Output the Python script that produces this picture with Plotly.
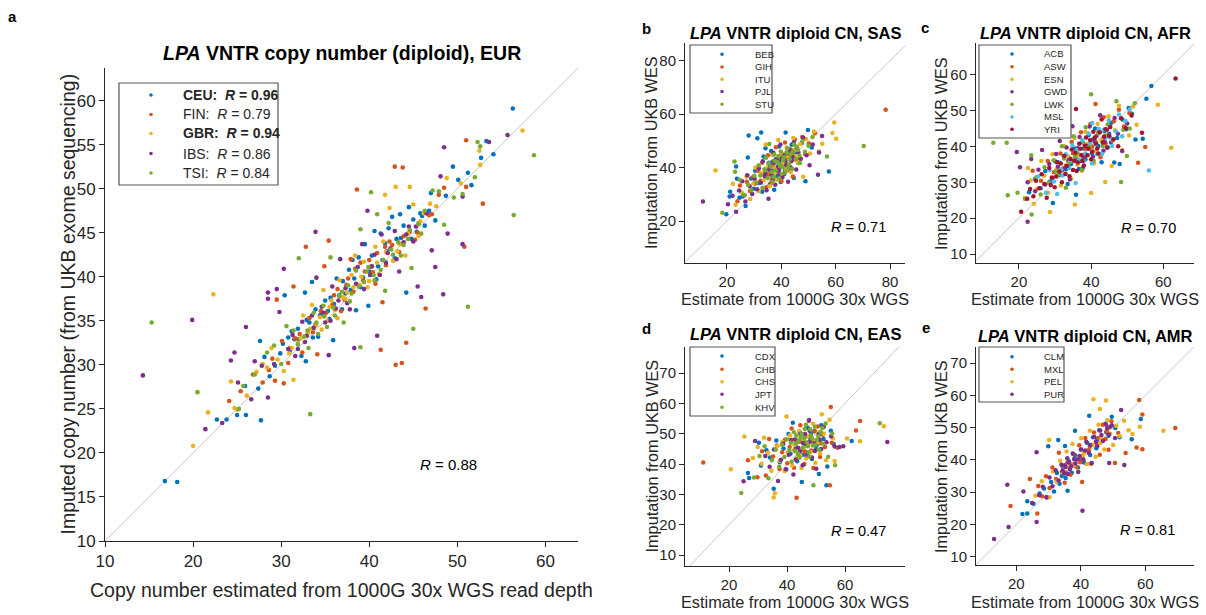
import plotly.graph_objects as go

W, H = 1206, 615

BLUE = "#0072BD"
ORANGE = "#D95319"
YELLOW = "#EDB120"
PURPLE = "#7E2F8E"
GREEN = "#77AC30"
CYAN = "#4DBEEE"
DARKRED = "#A2142F"
AXIS = "#262626"

# ---------------- EUR: (WGS estimate, WES imputation) per population ----------------
EUR_CEU = [(16.8,16.8),(18.2,16.7),(22.7,23.8),(23.8,23.8),(25.0,24.3),(26.0,24.3),(25.9,27.6),(27.7,23.7),
           (27.6,32.7),(27.4,27.3),(28.1,30.9),(28.7,28.7),(29.3,29.9),(29.9,31.3),(30.2,32.4),(30.4,37.9),
           (30.8,33.1),(31.2,33.8),(31.5,32.9),(31.9,34.1),(32.3,31.0),(32.7,38.2),(32.8,30.4),(32.9,35.1),
           (33.2,34.8),(33.5,39.4),(33.9,36.3),(34.2,33.2),(34.6,35.9),(35.0,37.3),(35.3,36.1),(35.6,37.6),
           (35.9,32.8),(36.3,39.8),(36.6,37.9),(37.0,39.5),(37.3,38.1),(37.7,40.8),(38.1,41.9),(38.5,36.2),
           (38.8,42.2),(39.3,39.9),(39.5,43.7),(39.9,36.7),(40.3,42.4),(40.6,45.2),(41.0,41.2),(41.3,44.9),
           (41.8,43.8),(42.2,45.5),(42.6,46.8),(43.1,44.3),(43.5,47.1),(43.9,45.8),(44.2,38.2),(44.5,47.9),
           (45.0,46.5),(45.4,45.1),(45.8,47.2),(46.3,45.8),(47.0,49.5),(48.7,49.2),(49.5,52.5),(50.1,51.0),
           (51.2,51.8),(51.6,50.4),(52.7,53.5),(53.3,55.4),(54.1,53.9),(56.3,59.1),
           (31.0,31.6),(32.0,32.9),(33.6,33.1),(34.4,35.6),(35.5,35.2),(36.0,36.9),(36.9,36.3),(37.9,38.5),
           (38.3,39.8),(39.0,38.8),(40.0,40.6),(40.8,39.7),(41.5,41.9),(42.0,42.9),(42.9,42.1),(43.6,44.4),
           (44.8,44.3),(46.0,46.9),(46.8,47.5),(47.5,46.4)]
EUR_FIN = [(24.1,25.9),(25.4,27.0),(26.8,28.9),(27.9,28.0),(28.6,29.4),(29.0,30.7),(29.3,28.2),(29.5,37.4),
           (30.1,32.7),(30.3,27.9),(30.8,30.2),(31.4,38.9),(31.6,33.0),(32.4,31.4),(32.8,43.4),(33.2,35.3),
           (33.6,33.7),(34.1,31.2),(34.5,36.1),(34.9,41.2),(35.4,44.1),(35.8,36.8),(36.4,38.6),(37.2,37.4),
           (37.6,39.8),(37.9,42.0),(38.4,40.9),(38.6,49.9),(39.0,41.6),(39.5,40.6),(40.0,41.9),(40.4,40.5),
           (40.9,42.7),(41.3,31.7),(41.5,37.1),(41.8,43.4),(42.3,44.0),(42.9,52.5),(43.0,30.0),(43.4,42.8),
           (43.7,30.2),(43.8,52.4),(44.2,32.5),(44.6,45.1),(45.2,44.2),(45.6,46.1),(46.4,36.4),(46.8,47.0),
           (47.1,47.1),(47.9,49.3),(48.5,50.1),(50.8,43.4),(51.0,50.2),(51.0,55.5),(52.9,48.3),
           (31.0,31.9),(32.1,33.5),(33.9,34.6),(35.1,35.9),(36.0,37.9),(36.8,36.1),(37.4,39.1),(38.2,38.3),
           (39.3,39.6),(40.2,41.1),(40.7,39.2),(41.9,41.3),(42.6,43.6),(43.9,44.6),(45.5,45.0)]
EUR_GBR = [(20.0,20.8),(21.7,24.6),(22.3,38.0),(24.3,28.1),(24.7,25.1),(25.0,24.9),(26.1,26.5),(27.2,29.2),
           (27.9,30.1),(28.4,29.7),(28.9,31.9),(29.6,30.6),(30.3,29.3),(30.9,31.3),(31.4,28.3),(31.9,32.5),
           (32.5,35.6),(33.0,33.6),(33.5,36.8),(34.0,34.5),(34.4,35.4),(34.8,38.5),(35.3,35.0),(35.7,37.3),
           (36.1,36.2),(36.6,39.6),(37.0,37.7),(37.5,38.2),(38.0,40.2),(38.4,42.4),(38.9,39.1),(39.4,41.7),
           (39.8,38.8),(40.2,41.2),(40.7,43.4),(41.1,40.3),(41.6,44.0),(41.8,49.3),(42.3,47.8),(42.7,41.8),
           (43.0,50.2),(43.5,43.7),(44.1,42.4),(44.6,50.2),(45.0,48.2),(45.6,44.6),(46.2,47.2),(46.9,48.3),
           (47.6,48.0),(48.8,51.2),(50.4,50.6),(52.5,54.3),(52.6,52.7),(57.4,56.6),
           (31.2,31.9),(32.2,33.0),(33.3,34.1),(34.6,34.0),(35.5,36.6),(36.4,35.3),(37.3,37.5),(38.2,38.8),
           (39.1,40.0),(40.0,39.5),(40.9,41.6),(41.9,42.8),(43.2,42.9),(44.4,44.9),(45.8,46.3)]
EUR_IBS = [(14.3,28.8),(19.9,35.1),(21.4,22.7),(23.3,23.4),(24.3,30.5),(24.7,31.4),(25.1,28.0),(26.0,34.3),
           (26.6,26.1),(27.0,30.4),(27.8,29.9),(28.5,26.3),(28.5,38.2),(28.5,37.5),(29.2,30.1),(29.5,38.6),
           (29.8,36.0),(30.3,40.9),(30.8,31.8),(31.3,33.4),(31.9,31.8),(32.4,34.9),(32.9,33.3),(33.5,35.6),
           (33.9,45.1),(34.0,39.9),(34.6,36.6),(35.0,34.8),(35.4,31.1),(35.8,38.9),(36.2,36.4),(36.7,42.0),
           (37.3,38.7),(37.8,36.3),(38.3,31.9),(38.7,41.1),(39.2,43.7),(39.8,47.5),(40.1,40.2),(40.6,42.5),
           (40.9,33.3),(41.4,44.8),(41.9,41.6),(42.4,43.2),(42.9,45.2),(43.4,40.6),(43.9,43.9),(44.5,45.7),
           (45.0,44.0),(45.5,38.9),(45.9,37.7),(46.5,47.2),(47.1,43.0),(47.5,41.1),(48.1,51.4),(48.4,38.0),
           (48.5,54.7),(48.9,44.9),(50.6,43.7),(50.6,49.1),(53.6,55.3),(55.7,56.1),
           (31.6,31.0),(32.7,32.6),(33.7,34.2),(34.8,35.9),(35.6,35.0),(36.5,37.3),(37.5,37.0),(38.5,39.2),
           (39.4,38.6),(40.3,41.2),(41.2,40.2),(42.1,42.7),(43.1,42.0),(44.2,44.8),(45.3,45.7)]
EUR_TSI = [(15.3,34.8),(20.5,26.9),(25.2,25.0),(25.7,27.6),(27.0,28.9),(28.4,31.4),(29.2,32.2),(30.0,30.1),
           (30.6,34.4),(31.4,33.9),(32.0,42.1),(32.6,33.2),(33.1,31.9),(33.3,24.4),(33.7,35.9),(34.2,33.5),
           (34.8,36.7),(35.2,34.3),(35.6,42.2),(36.1,35.6),(36.6,37.8),(37.1,34.8),(37.6,39.0),(38.0,38.1),
           (38.5,40.7),(39.0,45.4),(39.0,32.0),(39.4,39.4),(39.9,41.1),(40.2,49.6),(40.5,40.2),(40.9,47.1),
           (41.3,40.8),(41.8,38.4),(42.2,46.1),(42.7,42.5),(43.3,43.9),(43.9,43.6),(44.4,44.3),(44.8,41.0),
           (45.0,34.1),(45.6,46.0),(46.3,47.5),(47.2,49.8),(47.9,49.7),(48.5,45.9),(49.6,49.0),(50.6,49.4),
           (51.2,36.6),(52.0,51.3),(52.3,55.3),(52.6,54.8),(56.4,47.0),(58.7,53.8),
           (31.9,32.3),(33.0,33.9),(34.0,34.8),(34.9,35.5),(35.9,36.5),(36.9,38.3),(37.8,37.2),(38.8,38.9),
           (39.7,40.6),(40.6,39.6),(41.6,41.9),(42.5,43.1),(43.6,42.4),(44.6,45.3),(45.9,44.9)]

# ---------------- SAS ----------------
SAS_BEB = [(19.8,22.5),(21.2,31.0),(21.0,29.2),(23.4,40.4),(23.7,35.8),(24.6,28.7),(25.8,29.2),(26.9,25.6),
           (27.7,43.8),(28.0,52.0),(28.9,35.9),(29.9,32.1),(30.4,38.8),(31.2,51.0),(31.6,34.2),(32.6,53.1),
           (33.0,31.0),(33.5,44.1),(34.2,47.2),(34.6,36.5),(35.4,41.8),(35.8,33.8),(36.3,46.2),(36.9,39.4),
           (37.4,31.7),(37.9,43.1),(38.5,36.8),(39.2,47.9),(39.8,34.6),(40.3,41.4),(41.0,37.5),(41.6,53.1),
           (42.3,44.3),(43.1,39.0),(43.8,48.5),(44.6,36.1),(45.3,45.6),(46.2,41.7),(47.5,49.2),(48.9,34.9),
           (49.8,54.1),(51.2,47.5),(57.5,38.5),
           (35.0,38.5),(36.8,42.2),(38.2,39.9),(39.5,42.6),(40.9,44.9),(42.0,41.2),(43.4,43.8),(44.8,46.4),
           (37.2,36.0),(41.4,38.8)]
SAS_GIH = [(23.9,27.4),(24.8,33.3),(26.5,29.6),(27.3,34.7),(28.5,31.2),(29.6,36.4),(30.3,33.9),(31.5,38.8),
           (32.4,35.1),(33.0,41.8),(33.8,37.3),(34.5,32.6),(35.1,44.6),(35.9,39.2),(36.7,35.8),(37.3,42.5),
           (38.0,47.6),(38.8,38.4),(39.5,44.3),(40.1,35.0),(40.8,41.5),(41.4,49.4),(42.2,39.7),(42.9,45.9),
           (43.6,42.3),(44.3,36.7),(45.0,50.5),(45.9,46.4),(46.8,43.4),(47.7,51.4),(48.8,45.1),(50.2,49.0),
           (52.4,52.8),(78.4,61.6),
           (35.5,37.5),(37.0,40.4),(38.5,42.9),(39.9,40.2),(41.3,43.2),(42.6,44.8),(44.0,45.3),(45.3,43.0),
           (36.3,34.3),(40.6,37.6)]
SAS_ITU = [(15.8,38.9),(22.2,33.9),(23.2,26.1),(25.4,30.8),(27.2,36.6),(28.6,28.2),(29.8,34.1),(30.5,40.0),
           (31.7,31.1),(32.6,37.9),(33.5,35.3),(34.3,48.6),(35.0,40.1),(35.8,33.0),(36.6,44.8),(37.2,37.3),
           (38.1,42.1),(38.9,50.3),(39.6,36.0),(40.4,45.2),(41.2,40.6),(42.0,47.5),(42.7,43.9),(43.5,38.3),
           (44.4,51.1),(45.2,46.5),(46.0,41.9),(47.0,48.8),(48.1,36.6),(49.1,50.7),(50.6,45.3),(52.0,53.5),
           (53.8,46.0),(55.1,48.9),(58.8,52.9),(59.5,56.9),(60.2,50.8),
           (34.5,38.2),(36.1,40.2),(37.7,39.8),(39.1,43.7),(40.7,41.9),(42.2,44.6),(43.7,46.8),(45.0,44.3),
           (38.4,35.4),(41.8,38.9)]
SAS_PJL = [(11.2,27.3),(20.4,26.3),(22.1,29.5),(23.4,23.5),(24.5,31.4),(25.6,34.9),(26.8,27.3),(27.5,37.1),
           (28.4,33.0),(29.3,30.1),(30.2,35.8),(31.1,31.9),(31.8,39.7),(32.5,34.3),(33.2,42.4),(33.9,36.8),
           (34.6,31.5),(35.3,28.3),(35.9,40.9),(36.5,37.2),(37.1,45.5),(37.8,33.6),(38.4,43.2),(39.1,39.0),
           (39.7,48.6),(40.4,36.4),(41.1,44.6),(41.8,41.0),(42.5,34.7),(43.1,46.8),(43.9,42.6),(44.6,49.5),
           (45.5,39.3),(46.3,45.7),(47.2,43.3),(48.1,51.2),(49.3,44.6),(50.4,40.9),(51.6,48.6),(53.5,37.3),
           (53.9,45.6),(55.0,51.8),
           (34.2,37.9),(35.6,39.4),(37.4,41.8),(38.8,40.4),(40.1,43.2),(41.5,42.6),(42.9,45.3),(44.2,44.0),
           (45.8,47.4),(36.8,35.2),(39.5,37.6),(43.4,40.1)]
SAS_STU = [(18.3,23.1),(22.8,42.3),(23.0,38.4),(24.7,35.4),(26.2,29.8),(27.8,33.6),(29.0,31.5),(30.1,36.9),
           (30.9,34.4),(31.7,40.9),(32.3,37.0),(33.1,32.4),(33.8,39.4),(34.4,43.7),(35.0,36.1),(35.6,48.8),
           (36.2,40.3),(36.8,34.6),(37.4,44.9),(38.0,38.9),(38.6,42.0),(39.2,35.9),(39.8,46.0),(40.4,40.1),
           (41.0,43.9),(41.6,38.4),(42.2,47.1),(42.8,41.3),(43.4,45.0),(44.0,39.6),(44.7,48.6),(45.4,43.2),
           (46.1,46.6),(46.9,41.7),(47.8,49.9),(48.7,45.9),(50.0,48.2),(51.5,51.4),(56.8,44.1),(70.3,48.1),
           (34.0,39.0),(35.3,41.6),(36.5,38.3),(37.7,42.5),(38.9,44.2),(39.5,40.7),(40.7,42.8),(41.9,45.6),
           (43.1,43.2),(44.3,46.1),(45.6,47.9),(46.7,44.4),(37.1,36.5),(40.1,37.7),(42.5,40.0)]

# ---------------- AFR ----------------
AFR_ACB = [(22.8,27.2),(24.5,31.0),(26.0,28.3),(27.3,33.1),(28.6,30.2),(29.4,24.2),(30.1,35.8),(31.2,32.0),
           (32.4,37.3),(33.5,29.5),(34.4,35.1),(35.3,39.4),(35.8,26.5),(36.6,33.7),(37.6,41.2),(38.4,36.4),
           (39.3,43.2),(40.2,38.1),(41.1,45.0),(42.0,40.1),(42.9,35.6),(43.7,44.3),(44.6,39.7),(45.5,46.6),
           (46.4,35.5),(47.2,42.3),(47.9,35.1),(48.7,47.5),(49.7,44.8),(50.4,50.7),(51.3,49.1),(52.3,41.9),
           (54.3,42.1),(55.3,53.3),(56.7,56.8),
           (33.0,33.6),(35.6,37.2),(38.0,39.4),(40.6,41.9),(43.2,42.0),(45.0,43.5),(37.0,35.9)]
AFR_ASW = [(23.8,33.2),(26.1,30.4),(28.0,35.9),(29.7,32.8),(31.5,38.0),(33.0,34.6),(34.6,41.2),(35.7,36.2),
           (37.2,43.9),(38.5,39.3),(39.8,46.2),(41.2,51.8),(41.0,41.6),(42.6,37.0),(43.5,48.1),(44.9,43.0),
           (46.3,47.0),(47.7,50.2),(49.1,45.5),(50.6,49.3),(53.0,35.4),(55.0,39.8),
           (32.0,33.3),(35.0,38.1),(37.8,36.9),(40.3,39.9),(42.0,43.9),(44.0,40.8)]
AFR_ESN = [(21.6,25.6),(22.5,34.0),(23.3,30.5),(24.1,24.0),(25.0,28.1),(26.2,35.9),(27.0,31.8),(28.1,27.1),
           (28.6,21.7),(29.3,37.8),(30.4,33.6),(31.6,29.1),(32.5,40.1),(33.6,35.4),(34.5,31.0),(35.5,23.8),
           (35.4,42.3),(36.5,37.5),(37.5,33.2),(38.4,44.1),(39.5,39.6),(40.0,27.0),(40.8,35.3),(41.8,46.3),
           (42.8,41.7),(43.9,30.1),(44.8,48.4),(45.7,34.5),(46.6,44.5),(47.7,51.3),(48.6,39.0),(49.5,46.9),
           (50.5,43.0),(51.6,51.1),(52.6,46.0),(58.5,51.6),(62.2,39.6),
           (31.0,33.2),(33.8,37.1),(36.2,34.9),(38.9,40.6),(41.3,38.7),(43.5,42.6)]
AFR_GWD = [(19.4,38.4),(20.3,34.2),(22.4,19.0),(22.4,30.0),(23.4,36.5),(24.5,27.5),(25.4,33.5),(26.4,39.0),
           (27.3,29.4),(28.4,35.1),(29.3,31.2),(30.3,37.9),(31.3,41.5),(32.3,33.8),(33.2,39.7),(34.1,30.8),
           (34.8,45.6),(35.9,36.4),(36.8,42.6),(37.7,34.0),(38.7,40.2),(39.6,45.5),(40.5,37.1),(41.5,42.9),
           (42.5,48.7),(43.4,38.8),(44.4,44.6),(45.5,41.1),(46.5,47.9),(47.4,43.5),(48.6,38.7),(50.0,46.4),
           (30.8,34.3),(33.7,36.1),(36.3,39.5),(38.1,37.0),(40.9,41.5),(43.8,41.2)]
AFR_LWK = [(12.9,41.0),(16.6,41.0),(16.9,26.4),(19.6,27.1),(21.7,25.3),(23.5,21.0),(23.4,37.5),(24.8,31.4),
           (26.0,26.6),(27.1,34.2),(28.3,29.9),(29.6,36.1),(30.8,31.9),(31.9,40.0),(33.0,28.5),(34.1,35.7),
           (35.2,42.8),(36.2,38.2),(37.4,33.4),(38.5,45.3),(39.5,39.9),(40.0,54.5),(40.7,36.0),(42.0,43.6),
           (43.2,40.1),(44.6,46.1),(46.0,41.6),(47.0,52.6),(48.3,30.1),(48.9,44.6),(49.9,37.3),(50.7,45.0),
           (52.1,52.0),
           (30.2,33.0),(32.5,36.6),(35.6,37.2),(37.9,40.7),(41.4,41.0),(44.0,43.0)]
AFR_MSL = [(25.3,31.6),(27.5,27.1),(28.5,33.4),(29.7,30.2),(30.6,26.7),(31.2,35.6),(32.1,31.9),(33.0,37.8),
           (33.9,34.0),(34.8,40.3),(35.7,29.8),(36.6,36.3),(37.5,41.8),(38.4,38.0),(39.3,43.6),(40.3,46.5),
           (40.2,35.2),(41.2,40.6),(42.1,44.9),(43.0,37.9),(44.0,42.4),(44.9,47.3),(45.8,40.1),(46.8,44.2),
           (47.7,48.9),(48.6,42.8),(49.5,47.1),(50.7,50.3),(56.0,33.3),
           (31.7,33.6),(34.3,36.1),(36.1,39.0),(37.9,35.9),(39.8,41.0),(41.6,37.8),(43.5,44.6),(45.3,42.5)]
AFR_YRI = [(20.6,21.8),(22.3,25.4),(23.1,28.1),(24.0,26.1),(24.7,30.4),(25.6,28.3),(26.3,32.2),(27.0,29.5),
           (27.7,25.7),(28.4,34.0),(29.1,31.3),(29.9,28.6),(30.6,35.6),(31.2,33.0),(31.9,30.0),(32.6,37.3),
           (33.3,34.5),(34.0,31.7),(34.6,39.1),(35.3,36.0),(35.8,50.4),(36.0,33.1),(36.7,40.7),(37.3,37.6),
           (38.0,34.7),(38.6,42.5),(39.3,39.3),(40.0,36.4),(40.6,44.1),(41.3,40.8),(42.0,38.0),(42.9,47.5),
           (43.6,42.7),(44.4,39.7),(45.3,45.4),(46.2,42.0),(47.5,40.0),(48.3,47.8),(49.6,45.1),(51.2,48.6),
           (54.1,43.8),(63.4,58.9),
           (28.8,29.2),(30.3,31.6),(31.6,35.2),(32.9,32.3),(34.3,36.5),(35.0,33.4),(35.6,38.2),(36.3,35.5),
           (37.0,39.3),(37.6,35.9),(38.3,40.1),(39.0,37.5),(39.7,41.8),(40.3,38.6),(41.0,42.5),(41.7,39.4),
           (42.4,43.9),(43.2,41.1),(44.0,44.8),(45.0,42.9)]

# ---------------- EAS ----------------
EAS_CDX = [(26.5,37.1),(26.9,35.4),(30.3,47.0),(31.0,39.5),(32.9,44.6),(34.1,42.2),(35.4,31.9),(36.3,47.8),
           (37.5,40.6),(38.8,45.1),(39.7,38.2),(40.5,49.9),(41.2,43.4),(42.0,53.6),(42.8,46.5),(43.5,40.9),
           (44.3,50.7),(45.1,34.1),(45.6,47.6),(46.4,44.1),(47.1,52.0),(47.9,48.9),(48.6,41.7),(49.4,50.8),
           (50.2,46.2),(51.0,36.7),(51.8,52.8),(52.6,48.3),(53.6,33.0),(53.9,39.2),(55.1,51.0),(56.1,46.6),
           (62.3,47.6),
           (43.0,45.3),(44.8,48.6),(46.6,46.1),(48.3,49.9),(50.0,45.0),(45.7,43.1)]
EAS_CHB = [(11.1,40.5),(26.5,41.3),(29.8,35.7),(31.4,44.2),(32.7,36.2),(33.8,48.3),(35.2,42.5),(36.5,46.1),
           (37.4,38.4),(38.3,43.9),(39.3,48.0),(40.1,40.3),(40.9,45.6),(41.6,51.7),(42.4,38.8),(43.3,28.9),
           (43.1,47.8),(43.9,43.1),(44.6,52.8),(45.3,45.0),(46.0,40.0),(46.8,49.2),(47.5,54.2),(48.3,44.5),
           (49.1,38.7),(49.8,47.7),(50.6,52.4),(51.4,42.3),(52.3,49.7),(53.1,45.6),(54.8,33.0),(55.1,58.8),
           (55.4,47.0),(57.4,45.4),(63.8,51.1),(65.2,54.2),
           (42.6,44.6),(44.3,47.4),(46.1,44.1),(47.9,47.6),(49.6,50.8),(51.5,46.9)]
EAS_CHS = [(20.6,38.3),(25.3,49.1),(28.2,42.0),(29.9,45.6),(31.2,40.1),(32.1,48.7),(33.4,43.7),(34.6,37.8),
           (35.4,29.0),(35.8,30.4),(36.6,45.9),(37.5,41.1),(38.4,47.3),(39.2,37.6),(39.8,55.7),(40.2,43.8),
           (41.0,49.5),(41.8,39.5),(42.6,46.4),(43.4,42.2),(44.2,50.9),(45.0,38.7),(45.8,45.5),(46.6,41.8),
           (47.4,49.3),(48.2,44.0),(49.0,53.3),(49.8,40.4),(50.6,47.2),(51.4,43.6),(52.0,56.4),(52.7,50.0),
           (53.5,41.3),(54.7,54.6),(55.8,48.4),(56.4,41.0),(60.7,48.4),(65.2,47.5),(73.4,52.5),
           (42.1,48.0),(43.9,45.1),(45.6,48.3),(47.3,46.3),(49.1,47.6),(50.9,50.5),(44.6,42.8)]
EAS_JPT = [(25.0,34.3),(29.0,47.6),(32.5,42.7),(34.0,39.1),(35.5,44.8),(36.9,34.4),(37.9,41.4),(38.7,46.7),
           (39.6,38.3),(40.6,43.1),(41.4,47.9),(42.2,36.6),(43.0,41.5),(43.8,45.4),(44.6,49.9),(45.4,39.6),
           (46.2,46.9),(47.0,43.0),(47.6,54.5),(47.8,51.0),(48.6,42.2),(49.4,46.9),(50.1,38.5),(50.9,49.8),
           (51.8,45.0),(52.7,52.3),(53.6,47.2),(55.2,49.2),(56.4,45.8),(58.1,45.6),(59.4,45.9),(74.6,47.3),
           (42.8,48.1),(44.5,44.2),(46.2,49.9),(47.9,47.4),(49.6,44.3),(51.3,48.0),(45.6,46.9)]
EAS_KHV = [(24.2,30.5),(28.6,35.6),(30.5,42.7),(32.3,45.9),(33.6,35.3),(34.8,41.3),(36.1,44.7),(37.3,39.1),
           (38.2,46.4),(39.1,42.3),(40.0,48.2),(40.8,44.6),(41.6,40.8),(42.4,50.5),(43.1,46.8),(43.9,43.4),
           (44.7,48.9),(45.4,45.4),(46.1,51.6),(46.8,47.2),(47.5,43.9),(48.2,49.5),(48.9,46.1),(49.1,33.0),
           (49.6,52.3),(50.3,48.0),(51.0,44.7),(51.7,50.5),(52.5,46.7),(53.3,53.4),(54.2,42.4),(55.6,50.1),
           (56.6,39.6),(72.0,53.5),
           (41.3,47.0),(42.8,44.2),(44.0,47.8),(45.0,50.0),(46.0,48.6),(47.2,45.9),(48.0,51.5),(48.6,48.4),
           (49.8,46.3),(50.8,49.2),(44.3,42.1),(47.7,42.5),(52.2,51.9),(43.2,49.4),(46.5,53.0)]

# ---------------- AMR ----------------
AMR_CLM = [(21.9,23.2),(23.4,23.4),(23.4,27.2),(25.3,26.4),(27.2,29.6),(28.6,31.1),(29.5,28.3),(29.9,44.2),
           (30.8,33.1),(31.7,30.2),(32.6,35.9),(33.0,46.2),(33.4,32.6),(34.4,37.9),(35.1,44.3),(35.3,34.4),
           (35.9,30.4),(36.3,39.6),(37.2,36.0),(38.2,49.0),(38.2,41.4),(39.1,37.6),(40.1,43.2),(41.0,39.2),
           (42.0,45.2),(42.6,53.7),(42.9,41.5),(43.8,47.0),(44.8,43.6),(45.7,49.2),(46.6,45.8),(47.6,51.2),
           (48.6,47.5),(49.6,53.4),(50.7,49.9),(52.0,47.0),(55.8,46.4),(58.6,52.7),
           (34.1,35.0),(37.0,38.1),(39.6,40.3),(42.4,42.9),(45.1,46.3),(47.9,48.6)]
AMR_MXL = [(18.2,25.7),(24.2,34.1),(26.5,23.4),(26.8,31.9),(28.0,28.7),(29.2,34.9),(30.3,31.3),(31.2,37.6),
           (32.3,34.1),(33.2,42.2),(34.1,36.3),(35.0,32.9),(35.9,39.3),(36.8,35.4),(37.7,41.8),(38.6,37.9),
           (39.5,44.5),(40.4,33.1),(40.5,40.6),(41.4,46.8),(42.3,43.0),(43.2,38.8),(44.1,48.5),(45.0,44.9),
           (45.9,41.6),(46.8,50.9),(47.7,46.5),(48.6,43.1),(49.5,52.0),(50.6,39.0),(51.6,48.3),(53.9,42.1),
           (57.3,43.8),(58.1,58.6),(59.1,54.1),(59.1,43.3),(69.3,49.9),
           (35.4,36.1),(37.2,38.6),(39.8,39.3),(42.8,44.1),(45.4,46.8),(48.0,48.9)]
AMR_PEL = [(25.9,28.9),(27.9,33.4),(30.2,46.2),(30.3,28.4),(31.4,36.4),(32.5,33.3),(33.6,39.7),(34.6,35.9),
           (35.6,42.6),(36.5,38.1),(37.4,44.9),(38.3,40.0),(39.2,36.5),(40.1,46.7),(41.0,42.3),(41.9,38.7),
           (42.8,49.0),(43.7,44.7),(43.9,58.8),(44.6,41.0),(45.5,50.9),(45.9,55.8),(46.4,46.5),(47.3,43.2),
           (47.8,58.4),(48.2,52.4),(49.1,48.1),(50.0,44.6),(51.0,50.6),(52.0,47.4),(53.4,52.1),(54.8,49.2),
           (56.0,48.0),(58.3,50.3),(65.6,49.0),
           (35.0,37.8),(37.9,38.4),(40.6,41.5),(43.2,44.6),(46.0,45.2),(48.6,49.9)]
AMR_PUR = [(13.1,15.5),(17.2,32.3),(17.6,19.2),(22.2,30.2),(24.9,26.6),(26.3,42.4),(26.3,20.7),(27.1,29.0),
           (28.2,31.7),(29.3,28.4),(30.3,34.5),(31.2,31.8),(32.2,36.8),(33.1,33.6),(34.0,38.5),(34.9,35.8),
           (35.8,40.5),(36.6,37.1),(37.5,42.0),(38.3,38.9),(39.2,36.2),(40.0,43.2),(40.5,24.2),(40.8,40.0),
           (41.7,45.6),(42.5,42.1),(43.4,39.0),(44.2,47.1),(45.1,44.2),(46.0,49.1),(46.9,45.9),(47.8,51.0),
           (48.8,39.0),(48.7,47.9),(49.6,50.7),(50.6,46.8),(52.5,55.5),(53.5,38.4),
           (34.4,36.7),(35.3,37.8),(36.2,39.2),(37.0,38.0),(37.9,40.3),(38.8,40.1),(39.6,41.2),(41.3,42.9),
           (42.9,44.6),(44.7,45.6),(46.4,47.7),(48.2,49.8),(49.1,50.3),(36.0,35.6),(35.0,38.3)]

# Correlations shown on each panel
EUR_R = {"CEU": "0.96", "FIN": "0.79", "GBR": "0.94", "IBS": "0.86", "TSI": "0.84"}
EUR_BOLD = {"CEU", "GBR"}
R_ALL = {"a": "0.88", "b": "0.71", "c": "0.70", "d": "0.47", "e": "0.81"}


def px(x):
    return x / W


def py(y):
    return 1 - y / H


panels = [
    dict(key="a", ax="", title="<b><i>LPA</i> VNTR copy number (diploid), EUR</b>",
         box=(105, 578, 68, 541), xr=(10, 63.7), yr=(10, 63.7),
         xt=[10, 20, 30, 40, 50, 60], yt=[10, 15, 20, 25, 30, 35, 40, 45, 50, 55, 60],
         xlab="Copy number estimated from 1000G 30x WGS read depth",
         ylab="Imputed copy number (from UKB exome sequencing)",
         xlab_y=590, ylab_x=67,
         groups=[("CEU", EUR_CEU, BLUE), ("FIN", EUR_FIN, ORANGE), ("GBR", EUR_GBR, YELLOW),
                 ("IBS", EUR_IBS, PURPLE), ("TSI", EUR_TSI, GREEN)],
         title_y=53, letter=(12, 17), rpos=(49.0, 18.7),
         leg_box=(119, 278, 83, 185), leg_dot=151, leg_txt=181, leg_y=[95, 114.5, 133.5, 153.5, 173]),
    dict(key="b", ax="2", title="<b><i>LPA</i> VNTR diploid CN, SAS</b>",
         box=(685, 905, 43, 263), xr=(4.6, 85.5), yr=(4.3, 86.6),
         xt=[20, 40, 60, 80], yt=[20, 40, 60, 80],
         xlab="Estimate from 1000G 30x WGS", ylab="Imputation from UKB WES",
         xlab_y=299, ylab_x=651,
         groups=[("BEB", SAS_BEB, BLUE), ("GIH", SAS_GIH, ORANGE), ("ITU", SAS_ITU, YELLOW),
                 ("PJL", SAS_PJL, PURPLE), ("STU", SAS_STU, GREEN)],
         title_y=33, letter=(646, 28), rpos=(68.3, 17.6),
         leg_box=(690, 772, 45, 113), leg_dot=722, leg_txt=753, leg_y=[54.3, 67, 79.3, 91.5, 104.3]),
    dict(key="c", ax="3", title="<b><i>LPA</i> VNTR diploid CN, AFR</b>",
         box=(976, 1194, 43, 263), xr=(8.1, 68.5), yr=(7.5, 68.8),
         xt=[20, 40, 60], yt=[10, 20, 30, 40, 50, 60],
         xlab="Estimate from 1000G 30x WGS", ylab="Imputation from UKB WES",
         xlab_y=299, ylab_x=941,
         groups=[("ACB", AFR_ACB, BLUE), ("ASW", AFR_ASW, ORANGE), ("ESN", AFR_ESN, YELLOW),
                 ("GWD", AFR_GWD, PURPLE), ("LWK", AFR_LWK, GREEN), ("MSL", AFR_MSL, CYAN),
                 ("YRI", AFR_YRI, DARKRED)],
         title_y=33, letter=(925, 27), rpos=(55.8, 17.3),
         leg_box=(979, 1071, 45, 138), leg_dot=1012, leg_txt=1042,
         leg_y=[54, 66.7, 79.3, 91.7, 104.3, 117, 129.3]),
    dict(key="d", ax="4", title="<b><i>LPA</i> VNTR diploid CN, EAS</b>",
         box=(685, 905, 347, 566), xr=(4.8, 80.7), yr=(6.4, 78.6),
         xt=[20, 40, 60], yt=[10, 20, 30, 40, 50, 60, 70],
         xlab="Estimate from 1000G 30x WGS", ylab="Imputation from UKB WES",
         xlab_y=602, ylab_x=651,
         groups=[("CDX", EAS_CDX, BLUE), ("CHB", EAS_CHB, ORANGE), ("CHS", EAS_CHS, YELLOW),
                 ("JPT", EAS_JPT, PURPLE), ("KHV", EAS_KHV, GREEN)],
         title_y=334, letter=(647, 328), rpos=(64.6, 18.0),
         leg_box=(690, 775, 347, 416), leg_dot=722, leg_txt=753, leg_y=[356, 369.3, 381.7, 394.3, 407.3]),
    dict(key="e", ax="5", title="<b><i>LPA</i> VNTR diploid CN, AMR</b>",
         box=(976, 1194, 347, 565), xr=(7.5, 75.1), yr=(7.4, 75.0),
         xt=[20, 40, 60], yt=[10, 20, 30, 40, 50, 60, 70],
         xlab="Estimate from 1000G 30x WGS", ylab="Imputation from UKB WES",
         xlab_y=602, ylab_x=941,
         groups=[("CLM", AMR_CLM, BLUE), ("MXL", AMR_MXL, ORANGE), ("PEL", AMR_PEL, YELLOW),
                 ("PUR", AMR_PUR, PURPLE)],
         title_y=336, letter=(926, 327), rpos=(60.7, 18.1),
         leg_box=(979, 1064, 347, 402), leg_dot=1012, leg_txt=1042, leg_y=[356.7, 369.3, 381.7, 394.3]),
]

fig = go.Figure()
shapes = []
annotations = []
FONT = "Liberation Sans, Arial, Helvetica, sans-serif"

for p in panels:
    big = p["key"] == "a"
    xa, ya = "x" + p["ax"], "y" + p["ax"]
    x0, x1, y0, y1 = p["box"]
    lo = min(p["xr"][0], p["yr"][0])
    hi = max(p["xr"][1], p["yr"][1])
    # identity line
    fig.add_trace(go.Scatter(x=[lo, hi], y=[lo, hi], mode="lines", xaxis=xa, yaxis=ya,
                             line=dict(color="#c8c8c8", width=1), hoverinfo="skip", showlegend=False))
    for name, pts, col in p["groups"]:
        fig.add_trace(go.Scatter(x=[a for a, b in pts], y=[b for a, b in pts], mode="markers",
                                 xaxis=xa, yaxis=ya, name=name, showlegend=False,
                                 marker=dict(color=col, size=4.6 if big else 4.5, line=dict(width=0))))

    tick_font = dict(family=FONT, size=17 if big else 15, color=AXIS)
    common = dict(showline=True, linecolor=AXIS, linewidth=1, ticks="outside", ticklen=5,
                  tickcolor=AXIS, showgrid=False, zeroline=False, mirror=False, tickfont=tick_font,
                  automargin=False)
    fig.update_layout(**{
        "xaxis" + p["ax"]: dict(domain=[px(x0), px(x1)], range=list(p["xr"]), anchor=ya,
                                tickvals=p["xt"], **common),
        "yaxis" + p["ax"]: dict(domain=[py(y1), py(y0)], range=list(p["yr"]), anchor=xa,
                                tickvals=p["yt"], **common),
    })

    # axis titles
    lab_font = dict(family=FONT, size=19.5 if big else 16.3, color=AXIS)
    annotations.append(dict(text=p["xlab"], x=px((x0 + x1) / 2), y=py(p["xlab_y"]), xref="paper",
                            yref="paper", showarrow=False, xanchor="center", yanchor="middle",
                            font=lab_font))
    annotations.append(dict(text=p["ylab"], x=px(p["ylab_x"]), y=py((y0 + y1) / 2), xref="paper",
                            yref="paper", showarrow=False, xanchor="center", yanchor="middle",
                            textangle=-90, font=lab_font))

    # panel title and letter
    annotations.append(dict(text=p["title"], x=px((x0 + x1) / 2), y=py(p["title_y"]), xref="paper",
                            yref="paper", showarrow=False, xanchor="center", yanchor="middle",
                            font=dict(family=FONT, size=19.5 if big else 16.5, color="black")))
    annotations.append(dict(text="<b>" + p["key"] + "</b>", x=px(p["letter"][0]), y=py(p["letter"][1]),
                            xref="paper", yref="paper", showarrow=False, xanchor="center",
                            yanchor="middle", font=dict(family=FONT, size=15, color="black")))
    # overall correlation
    annotations.append(dict(text="<i>R</i> = " + R_ALL[p["key"]], x=p["rpos"][0], y=p["rpos"][1],
                            xref=xa, yref=ya, showarrow=False, xanchor="center", yanchor="middle",
                            font=dict(family=FONT, size=15 if big else 14.5, color="black")))

    # legend box
    lx0, lx1, ly0, ly1 = p["leg_box"]
    shapes.append(dict(type="rect", xref="paper", yref="paper", x0=px(lx0), x1=px(lx1),
                       y0=py(ly1), y1=py(ly0), line=dict(color="#555555", width=1.2),
                       fillcolor="white", layer="above"))
    for (name, pts, col), yy in zip(p["groups"], p["leg_y"]):
        r = 1.8
        shapes.append(dict(type="circle", xref="paper", yref="paper", xsizemode="pixel",
                           ysizemode="pixel", xanchor=px(p["leg_dot"]), yanchor=py(yy),
                           x0=-r, x1=r, y0=-r, y1=r, fillcolor=col, line=dict(width=0),
                           layer="above"))
        if big:
            txt = name + ":\u00a0 <i>R</i> = " + EUR_R[name]
            if name in EUR_BOLD:
                txt = "<b>" + txt + "</b>"
            fsize = 14
        else:
            txt = name
            fsize = 9.5
        annotations.append(dict(text=txt, x=px(p["leg_txt"]), y=py(yy), xref="paper", yref="paper",
                                showarrow=False, xanchor="left", yanchor="middle",
                                font=dict(family=FONT, size=fsize, color=AXIS)))

fig.update_layout(width=W, height=H, margin=dict(l=0, r=0, t=0, b=0, autoexpand=False),
                  paper_bgcolor="white", plot_bgcolor="white", showlegend=False,
                  shapes=shapes, annotations=annotations, font=dict(family=FONT, color=AXIS))

fig.write_html("out.html")
